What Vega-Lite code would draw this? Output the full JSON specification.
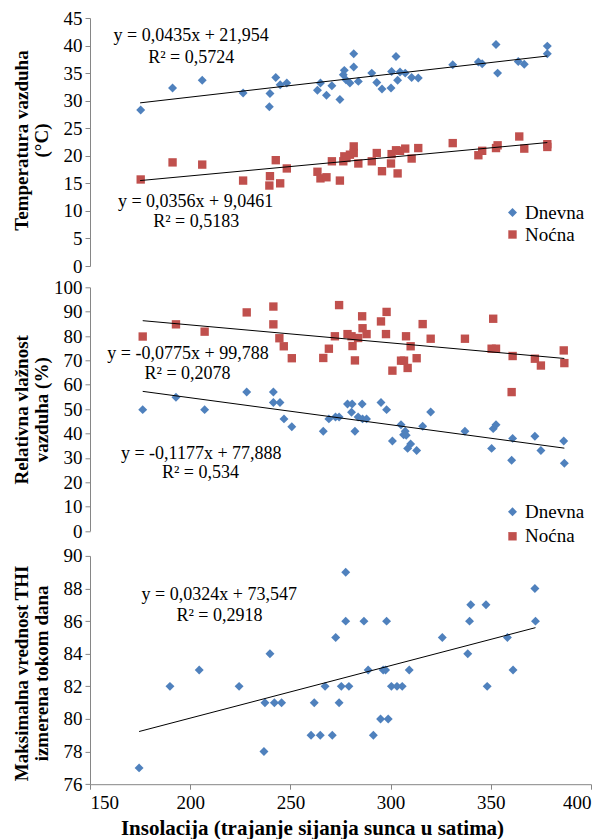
{
  "$schema": "https://vega.github.io/schema/vega-lite/v6.json",
  "background": "white",
  "padding": {"left": 11, "top": 9, "right": 5, "bottom": 5},
  "config": {
    "font": "Liberation Serif",
    "view": {"stroke": null},
    "axis": {
      "labelFont": "Liberation Serif", "labelFontSize": 19, "labelColor": "#000000",
      "domainColor": "#868686", "tickColor": "#868686", "tickSize": 5, "grid": false,
      "titleFont": "Liberation Serif", "titleFontWeight": "bold", "titleFontSize": 19, "titleColor": "#000000",
      "labelPadding": 3
    },
    "legend": {
      "labelFont": "Liberation Serif", "labelFontSize": 19, "labelColor": "#000000",
      "symbolSize": 50, "symbolStrokeWidth": 0, "labelOffset": 3, "padding": 0
    }
  },
  "datasets": {
    "temp": [
      {"series": "Dnevna", "x": 175.3, "y": 28.3}, {"series": "Dnevna", "x": 191.2, "y": 32.3}, {"series": "Dnevna", "x": 206.0, "y": 33.7},
      {"series": "Dnevna", "x": 226.4, "y": 31.4}, {"series": "Dnevna", "x": 239.8, "y": 31.3}, {"series": "Dnevna", "x": 239.5, "y": 28.9},
      {"series": "Dnevna", "x": 242.7, "y": 34.2}, {"series": "Dnevna", "x": 244.9, "y": 32.9}, {"series": "Dnevna", "x": 248.2, "y": 33.2},
      {"series": "Dnevna", "x": 263.5, "y": 31.9}, {"series": "Dnevna", "x": 265.0, "y": 33.2}, {"series": "Dnevna", "x": 268.0, "y": 31.0},
      {"series": "Dnevna", "x": 270.7, "y": 32.7}, {"series": "Dnevna", "x": 274.7, "y": 30.2}, {"series": "Dnevna", "x": 276.9, "y": 35.5},
      {"series": "Dnevna", "x": 276.4, "y": 34.7}, {"series": "Dnevna", "x": 277.7, "y": 33.8}, {"series": "Dnevna", "x": 279.7, "y": 33.2},
      {"series": "Dnevna", "x": 281.6, "y": 36.1}, {"series": "Dnevna", "x": 281.6, "y": 38.5}, {"series": "Dnevna", "x": 283.9, "y": 33.5},
      {"series": "Dnevna", "x": 290.6, "y": 35.0}, {"series": "Dnevna", "x": 293.1, "y": 33.3}, {"series": "Dnevna", "x": 295.7, "y": 32.1},
      {"series": "Dnevna", "x": 300.2, "y": 32.3}, {"series": "Dnevna", "x": 300.5, "y": 35.3}, {"series": "Dnevna", "x": 302.7, "y": 38.0},
      {"series": "Dnevna", "x": 303.5, "y": 33.7}, {"series": "Dnevna", "x": 304.7, "y": 35.2}, {"series": "Dnevna", "x": 307.3, "y": 35.0},
      {"series": "Dnevna", "x": 310.5, "y": 34.2}, {"series": "Dnevna", "x": 313.8, "y": 34.1}, {"series": "Dnevna", "x": 331.0, "y": 36.5},
      {"series": "Dnevna", "x": 343.8, "y": 37.0}, {"series": "Dnevna", "x": 345.7, "y": 36.7}, {"series": "Dnevna", "x": 352.6, "y": 40.2},
      {"series": "Dnevna", "x": 353.4, "y": 35.0}, {"series": "Dnevna", "x": 363.7, "y": 37.1}, {"series": "Dnevna", "x": 366.7, "y": 36.6},
      {"series": "Dnevna", "x": 378.2, "y": 39.9}, {"series": "Dnevna", "x": 378.2, "y": 38.5},
      {"series": "Noćna", "x": 175.3, "y": 15.7}, {"series": "Noćna", "x": 191.2, "y": 18.8}, {"series": "Noćna", "x": 206.0, "y": 18.4},
      {"series": "Noćna", "x": 226.4, "y": 15.5}, {"series": "Noćna", "x": 239.8, "y": 16.3}, {"series": "Noćna", "x": 239.5, "y": 14.6},
      {"series": "Noćna", "x": 242.7, "y": 19.2}, {"series": "Noćna", "x": 244.9, "y": 15.0}, {"series": "Noćna", "x": 248.2, "y": 17.7},
      {"series": "Noćna", "x": 263.5, "y": 17.1}, {"series": "Noćna", "x": 265.0, "y": 15.9}, {"series": "Noćna", "x": 268.0, "y": 16.1},
      {"series": "Noćna", "x": 270.7, "y": 19.0}, {"series": "Noćna", "x": 274.7, "y": 15.5}, {"series": "Noćna", "x": 276.9, "y": 19.9},
      {"series": "Noćna", "x": 276.4, "y": 19.0}, {"series": "Noćna", "x": 278.0, "y": 19.6}, {"series": "Noćna", "x": 279.7, "y": 20.2},
      {"series": "Noćna", "x": 281.6, "y": 21.7}, {"series": "Noćna", "x": 281.6, "y": 20.5}, {"series": "Noćna", "x": 283.9, "y": 18.6},
      {"series": "Noćna", "x": 290.6, "y": 19.0}, {"series": "Noćna", "x": 293.1, "y": 20.5}, {"series": "Noćna", "x": 295.7, "y": 17.2},
      {"series": "Noćna", "x": 300.2, "y": 18.6}, {"series": "Noćna", "x": 300.5, "y": 20.3}, {"series": "Noćna", "x": 302.7, "y": 21.0},
      {"series": "Noćna", "x": 303.5, "y": 16.8}, {"series": "Noćna", "x": 304.7, "y": 20.9}, {"series": "Noćna", "x": 307.3, "y": 21.3},
      {"series": "Noćna", "x": 310.5, "y": 19.5}, {"series": "Noćna", "x": 313.8, "y": 21.4}, {"series": "Noćna", "x": 331.0, "y": 22.3},
      {"series": "Noćna", "x": 343.8, "y": 20.1}, {"series": "Noćna", "x": 345.7, "y": 20.9}, {"series": "Noćna", "x": 352.6, "y": 21.4},
      {"series": "Noćna", "x": 353.4, "y": 21.9}, {"series": "Noćna", "x": 364.2, "y": 23.5}, {"series": "Noćna", "x": 366.7, "y": 21.3},
      {"series": "Noćna", "x": 378.2, "y": 22.1}, {"series": "Noćna", "x": 378.2, "y": 21.6}
    ],
    "rh": [
      {"series": "Noćna", "x": 176.3, "y": 79.8}, {"series": "Noćna", "x": 192.9, "y": 84.8}, {"series": "Noćna", "x": 207.2, "y": 81.8},
      {"series": "Noćna", "x": 228.2, "y": 89.7}, {"series": "Noćna", "x": 241.5, "y": 92.1}, {"series": "Noćna", "x": 241.5, "y": 84.8},
      {"series": "Noćna", "x": 244.5, "y": 79.1}, {"series": "Noćna", "x": 246.7, "y": 75.8}, {"series": "Noćna", "x": 250.7, "y": 70.9},
      {"series": "Noćna", "x": 266.4, "y": 71.0}, {"series": "Noćna", "x": 269.2, "y": 74.8}, {"series": "Noćna", "x": 272.2, "y": 79.9},
      {"series": "Noćna", "x": 274.3, "y": 92.7}, {"series": "Noćna", "x": 278.5, "y": 80.8}, {"series": "Noćna", "x": 280.5, "y": 79.9},
      {"series": "Noćna", "x": 281.0, "y": 75.9}, {"series": "Noćna", "x": 282.2, "y": 70.0}, {"series": "Noćna", "x": 283.8, "y": 79.2},
      {"series": "Noćna", "x": 285.8, "y": 88.1}, {"series": "Noćna", "x": 286.0, "y": 83.2}, {"series": "Noćna", "x": 288.0, "y": 80.8},
      {"series": "Noćna", "x": 295.2, "y": 86.0}, {"series": "Noćna", "x": 298.0, "y": 89.9}, {"series": "Noćna", "x": 297.7, "y": 80.8},
      {"series": "Noćna", "x": 300.9, "y": 65.8}, {"series": "Noćna", "x": 305.2, "y": 69.9}, {"series": "Noćna", "x": 306.7, "y": 69.9},
      {"series": "Noćna", "x": 307.7, "y": 79.9}, {"series": "Noćna", "x": 308.5, "y": 66.9}, {"series": "Noćna", "x": 310.0, "y": 75.8},
      {"series": "Noćna", "x": 313.0, "y": 70.9}, {"series": "Noćna", "x": 316.0, "y": 84.9}, {"series": "Noćna", "x": 320.0, "y": 78.9},
      {"series": "Noćna", "x": 337.1, "y": 78.9}, {"series": "Noćna", "x": 350.4, "y": 74.8}, {"series": "Noćna", "x": 352.6, "y": 74.8},
      {"series": "Noćna", "x": 351.2, "y": 87.1}, {"series": "Noćna", "x": 360.9, "y": 71.8}, {"series": "Noćna", "x": 360.4, "y": 57.0},
      {"series": "Noćna", "x": 372.0, "y": 70.7}, {"series": "Noćna", "x": 375.0, "y": 67.9}, {"series": "Noćna", "x": 386.4, "y": 74.1},
      {"series": "Noćna", "x": 386.7, "y": 68.9},
      {"series": "Dnevna", "x": 176.3, "y": 49.8}, {"series": "Dnevna", "x": 192.9, "y": 54.9}, {"series": "Dnevna", "x": 207.2, "y": 49.8},
      {"series": "Dnevna", "x": 228.2, "y": 57.0}, {"series": "Dnevna", "x": 241.5, "y": 57.0}, {"series": "Dnevna", "x": 241.5, "y": 52.7},
      {"series": "Dnevna", "x": 244.8, "y": 52.7}, {"series": "Dnevna", "x": 246.8, "y": 46.0}, {"series": "Dnevna", "x": 250.7, "y": 42.8},
      {"series": "Dnevna", "x": 266.4, "y": 40.9}, {"series": "Dnevna", "x": 269.2, "y": 46.0}, {"series": "Dnevna", "x": 272.5, "y": 46.8},
      {"series": "Dnevna", "x": 274.3, "y": 46.8}, {"series": "Dnevna", "x": 278.5, "y": 52.1}, {"series": "Dnevna", "x": 280.8, "y": 52.1},
      {"series": "Dnevna", "x": 280.5, "y": 48.7}, {"series": "Dnevna", "x": 282.2, "y": 40.9}, {"series": "Dnevna", "x": 283.8, "y": 46.8},
      {"series": "Dnevna", "x": 285.8, "y": 52.1}, {"series": "Dnevna", "x": 286.0, "y": 46.0}, {"series": "Dnevna", "x": 288.0, "y": 46.0},
      {"series": "Dnevna", "x": 295.2, "y": 52.7}, {"series": "Dnevna", "x": 298.0, "y": 49.8}, {"series": "Dnevna", "x": 300.9, "y": 36.9},
      {"series": "Dnevna", "x": 305.2, "y": 43.6}, {"series": "Dnevna", "x": 306.5, "y": 39.5}, {"series": "Dnevna", "x": 307.3, "y": 40.9},
      {"series": "Dnevna", "x": 307.8, "y": 39.3}, {"series": "Dnevna", "x": 308.5, "y": 33.9}, {"series": "Dnevna", "x": 310.0, "y": 35.7},
      {"series": "Dnevna", "x": 313.0, "y": 33.0}, {"series": "Dnevna", "x": 316.0, "y": 43.0}, {"series": "Dnevna", "x": 320.0, "y": 48.8},
      {"series": "Dnevna", "x": 337.1, "y": 40.9}, {"series": "Dnevna", "x": 350.4, "y": 33.9}, {"series": "Dnevna", "x": 351.2, "y": 42.0},
      {"series": "Dnevna", "x": 352.6, "y": 43.6}, {"series": "Dnevna", "x": 360.9, "y": 38.0}, {"series": "Dnevna", "x": 360.4, "y": 29.0},
      {"series": "Dnevna", "x": 372.0, "y": 38.9}, {"series": "Dnevna", "x": 375.0, "y": 33.0}, {"series": "Dnevna", "x": 386.4, "y": 36.9},
      {"series": "Dnevna", "x": 386.7, "y": 27.8}
    ],
    "thi": [
      {"x": 174.5, "y": 77}, {"x": 189.9, "y": 82}, {"x": 204.5, "y": 83}, {"x": 224.4, "y": 82}, {"x": 239.8, "y": 84},
      {"x": 237.3, "y": 81}, {"x": 242.0, "y": 81}, {"x": 245.6, "y": 81}, {"x": 236.8, "y": 78}, {"x": 260.3, "y": 79},
      {"x": 264.9, "y": 79}, {"x": 261.9, "y": 81}, {"x": 267.3, "y": 82}, {"x": 277.6, "y": 89}, {"x": 277.6, "y": 86},
      {"x": 272.6, "y": 85}, {"x": 286.7, "y": 86}, {"x": 298.0, "y": 86}, {"x": 288.8, "y": 83}, {"x": 296.3, "y": 83},
      {"x": 297.5, "y": 83}, {"x": 309.3, "y": 83}, {"x": 275.4, "y": 82}, {"x": 279.2, "y": 82}, {"x": 300.4, "y": 82},
      {"x": 303.2, "y": 82}, {"x": 305.8, "y": 82}, {"x": 274.3, "y": 81}, {"x": 295.0, "y": 80}, {"x": 298.8, "y": 80},
      {"x": 270.9, "y": 79}, {"x": 291.4, "y": 79}, {"x": 325.8, "y": 85}, {"x": 338.5, "y": 84}, {"x": 339.4, "y": 86},
      {"x": 340.0, "y": 87}, {"x": 347.6, "y": 87}, {"x": 348.2, "y": 82}, {"x": 358.3, "y": 85}, {"x": 361.1, "y": 83},
      {"x": 372.0, "y": 88}, {"x": 372.3, "y": 86}
    ],
    "trend": [
      {"panel": "T", "series": "Dnevna", "x": 175.0, "y": 29.6}, {"panel": "T", "series": "Dnevna", "x": 378.2, "y": 38.1},
      {"panel": "T", "series": "Noćna", "x": 175.0, "y": 15.5}, {"panel": "T", "series": "Noćna", "x": 378.2, "y": 22.4},
      {"panel": "RH", "series": "Noćna", "x": 176.3, "y": 86.3}, {"panel": "RH", "series": "Noćna", "x": 386.7, "y": 70.8},
      {"panel": "RH", "series": "Dnevna", "x": 176.3, "y": 57.3}, {"panel": "RH", "series": "Dnevna", "x": 386.7, "y": 34.0},
      {"panel": "THI", "series": "Dnevna", "x": 174.5, "y": 79.23}, {"panel": "THI", "series": "Dnevna", "x": 372.3, "y": 85.6}
    ],
    "labels": [
      {"panel": "T", "x": 200.5, "y": 41.7, "text": "y = 0,0435x + 21,954"},
      {"panel": "T", "x": 200.5, "y": 37.7, "text": "R² = 0,5724"},
      {"panel": "T", "x": 202.7, "y": 11.6, "text": "y = 0,0356x + 9,0461"},
      {"panel": "T", "x": 203.0, "y": 8.05, "text": "R² = 0,5183"},
      {"panel": "RH", "x": 198.9, "y": 72.7, "text": "y = -0,0775x + 99,788"},
      {"panel": "RH", "x": 198.7, "y": 64.3, "text": "R² = 0,2078"},
      {"panel": "RH", "x": 205.5, "y": 31.5, "text": "y = -0,1177x + 77,888"},
      {"panel": "RH", "x": 205.1, "y": 23.8, "text": "R² = 0,534"},
      {"panel": "THI", "x": 214.5, "y": 87.6, "text": "y = 0,0324x + 73,547"},
      {"panel": "THI", "x": 214.6, "y": 86.34, "text": "R² = 0,2918"}
    ]
  },
  "resolve": {"scale": {"color": "independent", "shape": "independent", "size": "independent", "y": "independent", "x": "independent"}},
  "bounds": "flush",
  "spacing": 21.3,
  "vconcat": [
    {
      "width": 501,
      "height": 248,
      "encoding": {
        "x": {"field": "x", "type": "quantitative", "scale": {"domain": [150, 400], "nice": false, "zero": false}, "axis": null},
        "y": {"field": "y", "type": "quantitative", "scale": {"domain": [0, 45], "nice": false, "zero": false},
              "axis": {"values": [0, 5, 10, 15, 20, 25, 30, 35, 40, 45], "title": ["Temperatura vazduha", "(°C)"],
                       "titleX": -69, "titleY": 122, "titleAngle": 270, "titleAlign": "center", "titleBaseline": "middle", "titleLineHeight": 20}}
      },
      "layer": [
        {
          "data": {"name": "temp"},
          "mark": {"type": "point", "filled": true, "opacity": 1},
          "encoding": {
            "color": {"field": "series", "type": "nominal", "scale": {"domain": ["Dnevna", "Noćna"], "range": ["#4F81BD", "#C0504D"]},
                      "legend": {"orient": "none", "legendX": 413, "legendY": 185, "title": null, "rowPadding": 2}},
            "shape": {"field": "series", "type": "nominal", "scale": {"domain": ["Dnevna", "Noćna"], "range": ["diamond", "square"]},
                      "legend": {"orient": "none", "legendX": 413, "legendY": 185, "title": null, "rowPadding": 2}},
            "size": {"field": "series", "type": "nominal", "scale": {"domain": ["Dnevna", "Noćna"], "range": [80, 70]}, "legend": null}
          }
        },
        {
          "data": {"name": "trend"},
          "transform": [{"filter": "datum.panel === 'T'"}],
          "mark": {"type": "line", "color": "#000000", "strokeWidth": 1},
          "encoding": {"detail": {"field": "series", "type": "nominal"}}
        },
        {
          "data": {"name": "labels"},
          "transform": [{"filter": "datum.panel === 'T'"}],
          "mark": {"type": "text", "font": "Liberation Serif", "fontSize": 18, "align": "center", "baseline": "middle", "color": "#000000"},
          "encoding": {"text": {"field": "text", "type": "nominal"}}
        }
      ]
    },
    {
      "bounds": "flush",
      "spacing": 24.6,
      "resolve": {"scale": {"color": "independent", "shape": "independent", "size": "independent", "y": "independent", "x": "independent"}},
      "vconcat": [
        {
          "width": 501,
          "height": 243.7,
          "encoding": {
            "x": {"field": "x", "type": "quantitative", "scale": {"domain": [150, 400], "nice": false, "zero": false}, "axis": null},
            "y": {"field": "y", "type": "quantitative", "scale": {"domain": [0, 100], "nice": false, "zero": false},
                  "axis": {"values": [0, 10, 20, 30, 40, 50, 60, 70, 80, 90, 100], "title": ["Relativna vlažnost", "vazduha (%)"],
                           "titleX": -69, "titleY": 122, "titleAngle": 270, "titleAlign": "center", "titleBaseline": "middle", "titleLineHeight": 20}}
          },
          "layer": [
            {
              "data": {"name": "rh"},
              "mark": {"type": "point", "filled": true, "opacity": 1},
              "encoding": {
                "color": {"field": "series", "type": "nominal", "scale": {"domain": ["Dnevna", "Noćna"], "range": ["#4F81BD", "#C0504D"]},
                          "legend": {"orient": "none", "legendX": 413, "legendY": 215, "title": null, "rowPadding": 4.5}},
                "shape": {"field": "series", "type": "nominal", "scale": {"domain": ["Dnevna", "Noćna"], "range": ["diamond", "square"]},
                          "legend": {"orient": "none", "legendX": 413, "legendY": 215, "title": null, "rowPadding": 4.5}},
                "size": {"field": "series", "type": "nominal", "scale": {"domain": ["Dnevna", "Noćna"], "range": [80, 70]}, "legend": null}
              }
            },
            {
              "data": {"name": "trend"},
              "transform": [{"filter": "datum.panel === 'RH'"}],
              "mark": {"type": "line", "color": "#000000", "strokeWidth": 1},
              "encoding": {"detail": {"field": "series", "type": "nominal"}}
            },
            {
              "data": {"name": "labels"},
              "transform": [{"filter": "datum.panel === 'RH'"}],
              "mark": {"type": "text", "font": "Liberation Serif", "fontSize": 18, "align": "center", "baseline": "middle", "color": "#000000"},
              "encoding": {"text": {"field": "text", "type": "nominal"}}
            }
          ]
        },
        {
          "width": 501,
          "height": 228.3,
          "encoding": {
            "x": {"field": "x", "type": "quantitative", "scale": {"domain": [150, 400], "nice": false, "zero": false},
                  "axis": {"values": [150, 200, 250, 300, 350, 400], "title": "Insolacija (trajanje sijanja sunca u satima)",
                           "titleFontSize": 21, "titlePadding": 5, "labelPadding": 4, "titleX": 222, "titleAlign": "center"}},
            "y": {"field": "y", "type": "quantitative", "scale": {"domain": [76, 90], "nice": false, "zero": false},
                  "axis": {"values": [76, 78, 80, 82, 84, 86, 88, 90], "title": ["Maksimalna vrednost THI", "izmerena tokom dana"],
                           "titleX": -69, "titleY": 117, "titleAngle": 270, "titleAlign": "center", "titleBaseline": "middle", "titleLineHeight": 20}}
          },
          "layer": [
            {
              "data": {"name": "thi"},
              "mark": {"type": "point", "filled": true, "opacity": 1, "shape": "diamond", "size": 80, "color": "#4F81BD"}
            },
            {
              "data": {"name": "trend"},
              "transform": [{"filter": "datum.panel === 'THI'"}],
              "mark": {"type": "line", "color": "#000000", "strokeWidth": 1},
              "encoding": {}
            },
            {
              "data": {"name": "labels"},
              "transform": [{"filter": "datum.panel === 'THI'"}],
              "mark": {"type": "text", "font": "Liberation Serif", "fontSize": 18, "align": "center", "baseline": "middle", "color": "#000000"},
              "encoding": {"text": {"field": "text", "type": "nominal"}}
            }
          ]
        }
      ]
    }
  ]
}
